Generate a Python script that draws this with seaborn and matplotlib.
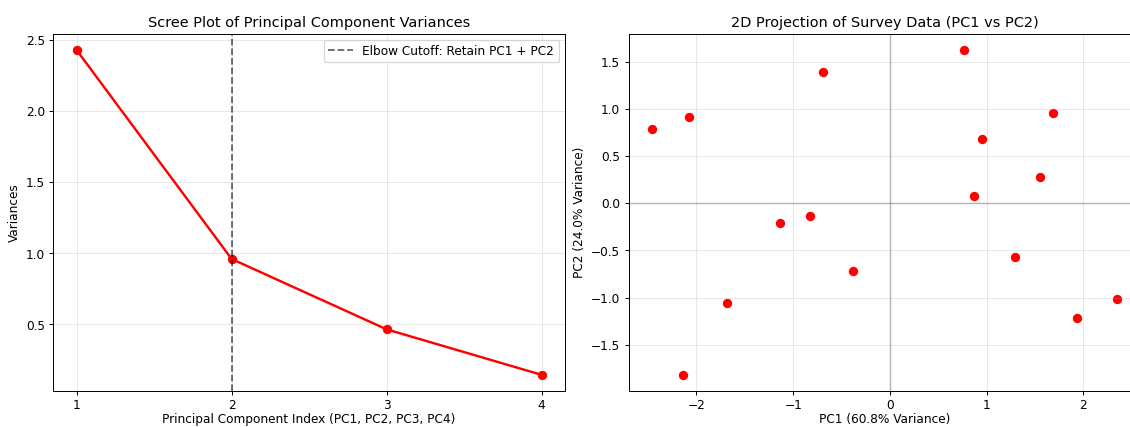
import matplotlib
matplotlib.use("Agg")
import matplotlib.pyplot as plt
import seaborn as sns
import numpy as np
import pandas as pd

components = [1, 2, 3, 4]
variances = [2.43, 0.96, 0.465, 0.145]

pc1 = [-2.46, -2.08, -1.68, -2.14, -1.14, -0.83, -0.69, -0.38,
       0.77, 0.95, 0.875, 1.69, 1.55, 1.29, 1.94, 2.35]
pc2 = [0.79, 0.915, -1.06, -1.82, -0.21, -0.14, 1.39, -0.72,
       1.625, 0.68, 0.08, 0.96, 0.28, -0.57, -1.22, -1.02]

scree_df = pd.DataFrame({"Component": components, "Variance": variances})
proj_df = pd.DataFrame({"PC1": pc1, "PC2": pc2})

plt.rcdefaults()
plt.rcParams['font.family'] = ['DejaVu Sans']
plt.rcParams['xtick.major.pad'] = 3.0

DPI = 86.923
fig = plt.figure(figsize=(1130 / DPI, 427.2 / DPI), dpi=DPI)
ax1 = fig.add_axes([0.0472, 0.084, 0.4528, 0.8364])
ax2 = fig.add_axes([0.5564, 0.084, 0.4528, 0.8364])

sns.lineplot(data=scree_df, x="Component", y="Variance", ax=ax1, color="red",
             marker="o", markersize=7, markeredgecolor="red", linewidth=2)
ax1.axvline(2, color="black", linestyle="--", alpha=0.6, linewidth=1.5,
            label="Elbow Cutoff: Retain PC1 + PC2")
ax1.set_title("Scree Plot of Principal Component Variances")
ax1.set_xlabel("Principal Component Index (PC1, PC2, PC3, PC4)", labelpad=1.0)
ax1.set_ylabel("Variances")
ax1.set_xticks(components)
ax1.grid(True, alpha=0.3)
ax1.legend(loc="upper right")

sns.scatterplot(data=proj_df, x="PC1", y="PC2", ax=ax2, color="red", s=60,
                edgecolor="red", linewidth=0)
ax2.axhline(0, color="grey", alpha=0.5, linewidth=1.2)
ax2.axvline(0, color="grey", alpha=0.5, linewidth=1.2)
ax2.set_title("2D Projection of Survey Data (PC1 vs PC2)")
ax2.set_xlabel("PC1 (60.8% Variance)", labelpad=1.0)
ax2.set_ylabel("PC2 (24.0% Variance)")
ax2.grid(True, alpha=0.3)

fig.savefig("out.png", dpi=DPI)
